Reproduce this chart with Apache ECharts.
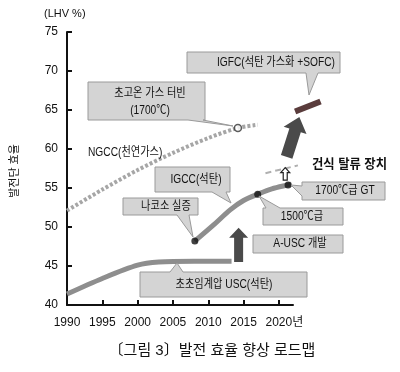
<!DOCTYPE html>
<html><head><meta charset="utf-8">
<script src="https://cdn.jsdelivr.net/npm/echarts@6/dist/echarts.min.js"></script>
<style>html,body{margin:0;padding:0;background:#fff}#c{width:400px;height:372px}</style>
</head><body><div id="c"></div>
<script>
// ---- data ----
const xTicks = [1990, 1995, 2000, 2005, 2010, 2015, 2020];
const yTicks = [40, 45, 50, 55, 60, 65, 70, 75];
const ngcc = [[1990,52.1],[1995,54.8],[2000,57.3],[2005,59.5],[2010,61.4],[2014.2,62.7],[2017,63.1]];
const ngccMark = [[2014.2,62.7]];
const usc = [[1990,41.4],[1995,43.4],[2000,45.1],[2003,45.5],[2008,45.6],[2013.3,45.6]];
const igcc = [[2008.1,48.2],[2010.8,50.3],[2013.1,52.2],[2015,53.4],[2017,54.2],[2019,54.9],[2021.3,55.4],[2021.8,55.5]];
const igccDots = [[2008.1,48.2],[2017,54.2],[2021.3,55.4]];
const dryDesulf = [[2018.1,56.9],[2022.7,57.9]];
const igfc = [[2022.3,64.8],[2025.9,66.1]];
const uscArrow = [[2014.3,45.5],[2014.3,49.9]];
const igfcArrow = [[2021.1,59.0],[2022.9,64.1]];
const dryArrow = [[2020.9,56.0],[2020.9,57.6]];

const FONT = "'Liberation Sans', 'Noto Sans CJK KR', sans-serif";
const chart = echarts.init(document.getElementById('c'), null, {renderer:'canvas'});

chart.setOption({
  animation: false,
  backgroundColor: '#fff',
  grid: {left: 67, right: 107, top: 32, bottom: 67},
  xAxis: {
    type: 'value', min: 1990, max: 2022, interval: 5,
    axisLine: {lineStyle: {color: '#111', width: 2}},
    axisTick: {inside: true, length: 5, lineStyle: {color: '#111', width: 2}, customValues: xTicks.slice(1)},
    splitLine: {show: false},
    axisLabel: {
      customValues: xTicks, color: '#111', fontSize: 12, fontFamily: FONT, margin: 12,
      formatter: v => v === 2020 ? '{p|}2020{b|년}' : String(v),
      rich: {p: {width: 11}, b: {fontSize: 12, fontFamily: FONT, color: '#111'}}
    }
  },
  yAxis: {
    type: 'value', min: 40, max: 75, interval: 5,
    axisLine: {show: true, lineStyle: {color: '#111', width: 2}},
    axisTick: {show: true, inside: true, length: 5, lineStyle: {color: '#111', width: 2}},
    splitLine: {show: false},
    axisLabel: {color: '#111', fontSize: 12, fontFamily: FONT, margin: 9}
  },
  series: [
    {type: 'line', data: ngcc, smooth: 0.3, symbol: 'none',
     lineStyle: {color: '#a6a6a6', width: 4, type: [3, 2], cap: 'butt'}},
    {type: 'scatter', data: ngccMark, symbol: 'circle', symbolSize: 7,
     itemStyle: {color: '#fff', borderColor: '#333', borderWidth: 1.5}, z: 4},
    {type: 'line', data: usc, smooth: 0.3, symbol: 'none',
     lineStyle: {color: '#8e8e8e', width: 5}},
    {type: 'line', data: igcc, smooth: 0.3, symbol: 'none',
     lineStyle: {color: '#8e8e8e', width: 5}},
    {type: 'scatter', data: igccDots, symbol: 'circle', symbolSize: 7,
     itemStyle: {color: '#111'}, z: 4}
  ]
});

function px(p){ return chart.convertToPixel({gridIndex: 0}, p); }
function arrowPoly(a, b, sw, hw, hl){
  const p0 = px(a), p1 = px(b);
  const dx = p1[0]-p0[0], dy = p1[1]-p0[1], L = Math.hypot(dx, dy);
  const ux = dx/L, uy = dy/L, nx = -uy, ny = ux;
  const hb = [p1[0]-ux*hl, p1[1]-uy*hl];
  return [
    [p0[0]+nx*sw/2, p0[1]+ny*sw/2],
    [hb[0]+nx*sw/2, hb[1]+ny*sw/2],
    [hb[0]+nx*hw/2, hb[1]+ny*hw/2],
    p1,
    [hb[0]-nx*hw/2, hb[1]-ny*hw/2],
    [hb[0]-nx*sw/2, hb[1]-ny*sw/2],
    [p0[0]-nx*sw/2, p0[1]-ny*sw/2]
  ];
}
function seg(d, style){
  const a = px(d[0]), b = px(d[1]);
  return {type: 'line', z: 5, shape: {x1: a[0], y1: a[1], x2: b[0], y2: b[1]}, style: style};
}
function bubble(x, y, w, h, ptr){
  let pts = [[x,y]];
  if (ptr && ptr.side === 'top') pts.push([ptr.a1,y], ptr.tip, [ptr.a2,y]);
  pts.push([x+w,y],[x+w,y+h]);
  if (ptr && ptr.side === 'bottom') pts.push([ptr.a2,y+h], ptr.tip, [ptr.a1,y+h]);
  pts.push([x,y+h]);
  if (ptr && ptr.side === 'left') pts.push([x,ptr.b2], ptr.tip, [x,ptr.b1]);
  return {type: 'polygon', shape: {points: pts}, z: 10,
          style: {fill: '#d4d4d4', stroke: '#9a9a9a', lineWidth: 1}};
}
function txt(s, x, y, size, align, weight, sx, rot){
  return {type: 'text', x: x, y: y, z: 11, scaleX: sx || 1, rotation: rot || 0,
          style: {text: s, fill: '#111', font: (weight||'normal') + ' ' + size + 'px ' + FONT,
                  align: align || 'center', verticalAlign: 'middle'}};
}

const g = [];
g.push(seg(dryDesulf, {stroke: '#b0b0b0', lineWidth: 2, lineDash: [6, 4]}));
g.push(seg(igfc, {stroke: '#5a3c3c', lineWidth: 6}));
g.push({type: 'polygon', z: 6, shape: {points: arrowPoly(uscArrow[0], uscArrow[1], 9, 19, 10)}, style: {fill: '#4a4a4a'}});
g.push({type: 'polygon', z: 6, shape: {points: arrowPoly(igfcArrow[0], igfcArrow[1], 12, 24, 14)}, style: {fill: '#4a4a4a'}});
g.push({type: 'polygon', z: 6, shape: {points: arrowPoly(dryArrow[0], dryArrow[1], 4, 9, 5)}, style: {fill: '#fff', stroke: '#222', lineWidth: 1.2}});

const S = 0.85;
g.push(bubble(88, 82, 117, 38, {side: 'bottom', a1: 188, a2: 203, tip: [233, 126]}));
g.push(txt('초고온 가스 터빈', 150, 94, 12, 'center', 'normal', S));
g.push(txt('(1700℃)', 150, 111, 12, 'center', 'normal', S));

g.push(bubble(187, 52, 153, 21, {side: 'bottom', a1: 306, a2: 318, tip: [309, 95]}));
g.push(txt('IGFC(석탄 가스화 +SOFC)', 276, 62.5, 12, 'center', 'normal', S));

g.push(bubble(155, 167, 75, 25, {side: 'bottom', a1: 212, a2: 226, tip: [231, 203]}));
g.push(txt('IGCC(석탄)', 196, 180, 12, 'center', 'normal', S));

g.push(bubble(123, 198, 75, 17, {side: 'bottom', a1: 177, a2: 189, tip: [193, 237]}));
g.push(txt('나코소 실증', 166, 206.5, 12, 'center', 'normal', S));

g.push(bubble(302, 182, 83, 18, {side: 'left', b1: 186, b2: 196, tip: [291, 185]}));
g.push(txt('1700℃급 GT', 345, 191, 12, 'center', 'normal', S));

g.push(bubble(263, 208, 80, 17, {side: 'top', a1: 266, a2: 280, tip: [259, 196]}));
g.push(txt('1500℃급', 302, 216.5, 12, 'center', 'normal', S));

g.push(bubble(253, 235, 90, 18));
g.push(txt('A-USC 개발', 300, 244, 12, 'center', 'normal', S));

g.push(bubble(140, 272, 167, 25, {side: 'top', a1: 170, a2: 183, tip: [177, 263]}));
g.push(txt('초초임계압 USC(석탄)', 224, 285, 12, 'center', 'normal', S));

g.push(txt('NGCC(천연가스)', 88, 153, 12, 'left', 'normal', S));
g.push(txt('건식 탈류 장치', 312, 164, 13, 'left', 'bold', 0.95));
g.push(txt('(LHV %)', 44, 14, 11, 'left'));
g.push(txt('발전단 효율', 15, 171, 11, 'center', 'normal', 1, Math.PI / 2));
g.push(txt('〔그림 3〕발전 효율 향상 로드맵', 212, 351, 15));

chart.setOption({graphic: g});
</script></body></html>
